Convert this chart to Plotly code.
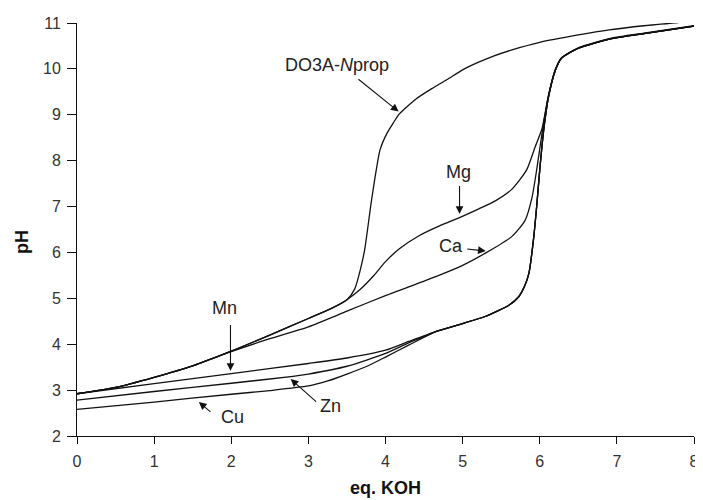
import plotly.graph_objects as go

# ---- data ----
lig_x = [0, 0.5, 1, 1.5, 2, 2.5, 3, 3.3, 3.5, 3.6, 3.67, 3.73, 3.82, 3.93, 4.02, 4.1, 4.18, 4.4, 4.6, 4.8,
         5.0, 5.2, 5.4, 5.65, 6.0, 6.5, 6.9, 7.35, 7.8]
lig_y = [2.92, 3.06, 3.28, 3.53, 3.85, 4.2, 4.56, 4.78, 4.97, 5.2, 5.6, 6.06, 7.15, 8.24, 8.6, 8.82, 9.02, 9.35,
         9.57, 9.77, 9.98, 10.14, 10.28, 10.42, 10.58, 10.74, 10.85, 10.94, 11.01]

mg_x = [0, 0.5, 1, 1.5, 2, 2.5, 3, 3.3, 3.5, 3.67, 3.84, 4.0, 4.18, 4.44, 4.7, 4.96, 5.21, 5.43, 5.64, 5.83,
        5.94, 6.03, 6.11, 6.2, 6.28, 6.5, 6.93, 7.35, 8.0]
mg_y = [2.92, 3.06, 3.28, 3.53, 3.85, 4.2, 4.56, 4.78, 4.97, 5.19, 5.48, 5.8, 6.08, 6.37, 6.58, 6.76, 6.95, 7.13,
        7.38, 7.8, 8.3, 8.7, 9.4, 9.98, 10.24, 10.46, 10.67, 10.78, 10.94]

ca_x = [0, 0.5, 1, 1.5, 2, 2.5, 3, 3.5, 4.0, 4.66, 5.0, 5.3, 5.64, 5.81, 5.9, 5.96, 6.03, 6.11, 6.2, 6.28,
        6.5, 6.93, 7.35, 8.0]
ca_y = [2.92, 3.06, 3.28, 3.53, 3.84, 4.12, 4.38, 4.72, 5.06, 5.48, 5.72, 5.99, 6.35, 6.7, 7.2, 7.8, 8.6,
        9.38, 9.96, 10.23, 10.45, 10.66, 10.77, 10.93]

tail_x = [4.66, 5.0, 5.3, 5.6, 5.73, 5.8, 5.86, 5.92, 5.96, 6.0, 6.05, 6.11, 6.2, 6.28, 6.5, 6.93, 7.35, 8.0]
tail_y = [4.28, 4.45, 4.61, 4.85, 5.04, 5.25, 5.55, 6.3, 7.0, 7.8, 8.65, 9.36, 9.96, 10.23, 10.45, 10.66,
          10.77, 10.93]

mn_x = [0, 1, 2, 3, 3.5, 4.0, 4.3] + tail_x
mn_y = [2.92, 3.14, 3.36, 3.58, 3.7, 3.87, 4.06] + tail_y

zn_x = [0, 1, 2, 2.8, 3.0, 3.5, 4.0, 4.3] + tail_x
zn_y = [2.78, 2.97, 3.15, 3.3, 3.35, 3.52, 3.8, 4.03] + tail_y

cu_x = [0, 1, 2, 2.5, 3, 3.25, 3.5, 3.76, 4.0, 4.3] + tail_x
cu_y = [2.58, 2.74, 2.91, 2.99, 3.09, 3.2, 3.35, 3.52, 3.72, 3.98] + tail_y

x_ticks = [0, 1, 2, 3, 4, 5, 6, 7, 8]
y_ticks = [2, 3, 4, 5, 6, 7, 8, 9, 10, 11]

series = [
    ("DO3A-Nprop", lig_x, lig_y),
    ("Mg", mg_x, mg_y),
    ("Ca", ca_x, ca_y),
    ("Mn", mn_x, mn_y),
    ("Zn", zn_x, zn_y),
    ("Cu", cu_x, cu_y),
]

fig = go.Figure()
for name, xs, ys in series:
    fig.add_trace(go.Scatter(x=xs, y=ys, mode="lines", name=name,
                             line=dict(color="#111111", width=1.3, shape="spline", smoothing=0.6),
                             showlegend=False, hoverinfo="skip"))

FONT = "Liberation Sans, Arial, sans-serif"
lab_font = dict(family=FONT, size=18, color="#222222")

# label texts (text position, arrow tail, arrow head)
labels = [
    ("DO3A-<i>N</i>prop", 3.37, 10.09, 3.63, 9.80, 4.17, 9.07),
    ("Mg", 4.95, 7.76, 4.96, 7.48, 4.96, 6.84),
    ("Ca", 4.85, 6.13, 5.04, 6.08, 5.30, 6.03),
    ("Mn", 1.91, 4.80, 1.99, 4.45, 1.99, 3.42),
    ("Cu", 2.01, 2.41, 1.75, 2.50, 1.58, 2.74),
    ("Zn", 3.29, 2.65, 3.12, 2.72, 2.77, 3.24),
]
for text, tx, ty, ax, ay, hx, hy in labels:
    fig.add_annotation(x=tx, y=ty, xref="x", yref="y", text=text, showarrow=False,
                       font=lab_font, xanchor="center", yanchor="middle")
    fig.add_annotation(x=hx, y=hy, ax=ax, ay=ay, xref="x", yref="y", axref="x", ayref="y",
                       text="", showarrow=True, arrowhead=2, arrowsize=1.4, arrowwidth=1.1,
                       arrowcolor="#111111", standoff=0, startstandoff=0)

# axis titles
fig.add_annotation(x=0.5, y=-0.125, xref="paper", yref="paper", text="<b>eq. KOH</b>",
                   showarrow=False, font=dict(family=FONT, size=18, color="#111111"),
                   xanchor="center", yanchor="middle")
fig.add_annotation(x=-0.089, y=0.47, xref="paper", yref="paper", text="<b>pH</b>", textangle=-90,
                   showarrow=False, font=dict(family=FONT, size=18, color="#111111"),
                   xanchor="center", yanchor="middle")

axis_common = dict(showgrid=False, zeroline=False, showline=True, linecolor="#111111", linewidth=1,
                   ticks="outside", tickcolor="#111111", tickwidth=1, mirror=False,
                   tickfont=dict(family=FONT, size=16, color="#333333"))
fig.update_xaxes(range=[0, 8], tickvals=x_ticks, ticklen=7, ticklabelstandoff=4,
                 ticklabeloverflow="allow", **axis_common)
fig.update_yaxes(range=[2, 11], tickvals=y_ticks, ticklen=9, ticklabelstandoff=3, **axis_common)

# the page body adds an 8px offset, so the figure is sized/margined to compensate
fig.update_layout(width=695, height=492, margin=dict(l=69, r=4, t=15, b=64),
                  plot_bgcolor="white", paper_bgcolor="white")

fig.write_html("out.html")
